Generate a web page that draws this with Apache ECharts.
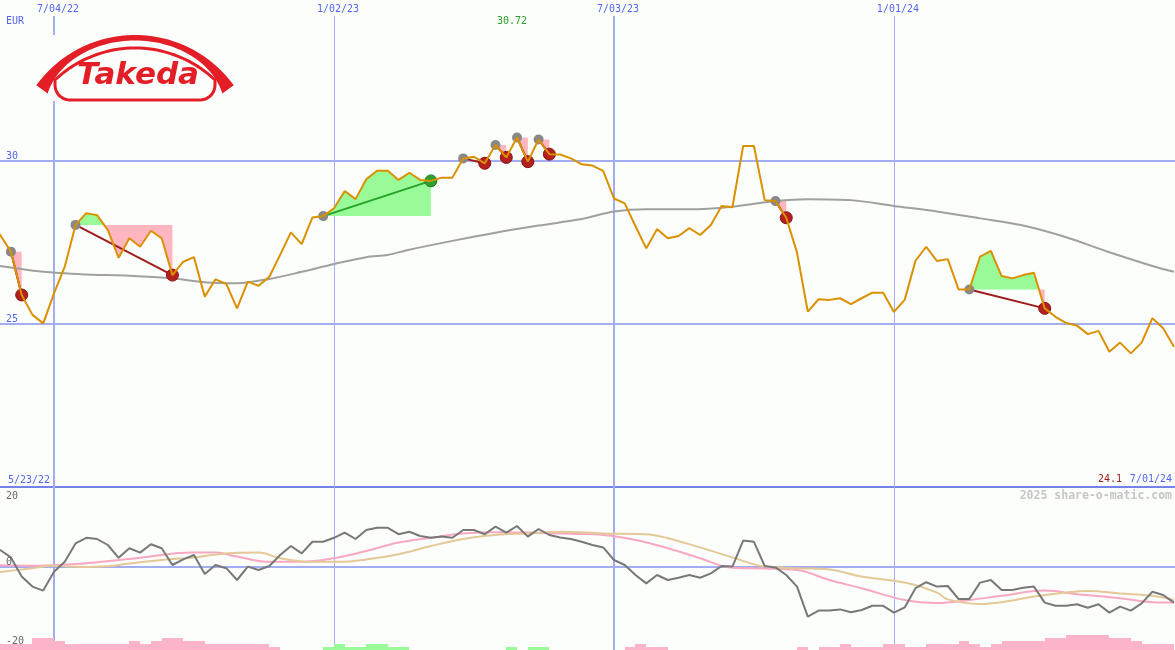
<!DOCTYPE html>
<html><head><meta charset="utf-8">
<script src="https://cdn.jsdelivr.net/npm/echarts@6/dist/echarts.min.js"></script>
<style>html,body{margin:0;padding:0;background:#fcfefc}#c{width:1175px;height:650px}</style>
</head><body><div id="c"></div>
<script>
// ---- data (week index 0 = 5/23/22) ----
const price = [28.10,27.73,27.22,25.89,25.28,25.02,25.94,26.76,28.04,28.40,
28.34,27.88,27.03,27.63,27.37,27.86,27.63,26.50,26.91,27.05,
25.84,26.37,26.23,25.48,26.30,26.17,26.45,27.12,27.81,27.45,
28.27,28.31,28.55,29.08,28.83,29.44,29.70,29.70,29.42,29.64,
29.42,29.39,29.49,29.49,30.08,30.13,29.93,30.49,30.11,30.72,
29.98,30.66,30.21,30.20,30.08,29.90,29.86,29.70,28.85,28.70,
28.00,27.32,27.91,27.63,27.70,27.94,27.73,28.04,28.62,28.58,
30.46,30.46,28.80,28.77,28.26,27.19,25.38,25.76,25.74,25.79,
25.61,25.79,25.96,25.96,25.37,25.74,26.94,27.37,26.93,26.99,
26.06,26.06,27.07,27.24,26.47,26.40,26.50,26.57,25.48,25.22,
25.03,24.95,24.69,24.79,24.15,24.43,24.10,24.43,25.18,24.87,24.30];
const movingAvg = [[0,26.80],[1,26.78],[5,26.60],[9,26.52],[13,26.48],[17,26.40],[20,26.28],[23,26.25],[26,26.38],[29,26.60],[32,26.84],[35,27.05],[37,27.12],[39,27.28],[43,27.55],[47,27.80],[51,28.02],[55,28.22],[58,28.45],[61,28.52],[65,28.52],[69,28.60],[73,28.77],[76,28.83],[80,28.80],[84,28.62],[88,28.45],[92,28.24],[96,28.02],[100,27.66],[104,27.20],[108,26.78],[110,26.60]];
const oscLine = [5.0,4.25,2.4,-2.4,-4.9,-5.9,-1.2,1.3,5.9,7.3,
7.0,5.5,2.3,4.7,3.6,5.7,4.7,0.5,1.9,3.0,
-1.75,0.5,-0.3,-3.25,0.1,-0.75,0.25,3.0,5.25,3.4,
6.3,6.3,7.3,8.6,7.0,9.25,9.8,9.8,8.2,8.8,
7.75,7.3,7.6,7.3,9.25,9.25,8.2,10.1,8.6,10.25,
7.6,9.5,8.0,7.4,7.0,6.3,5.5,4.9,1.75,0.5,
-2.0,-4.1,-2.0,-3.25,-2.7,-2.0,-2.7,-1.6,0.25,0.1,
6.6,6.3,0.25,-0.1,-2.0,-4.9,-12.4,-10.9,-10.9,-10.6,
-11.3,-10.75,-9.7,-9.7,-11.4,-10.1,-5.3,-3.8,-4.9,-4.75,
-8.0,-8.0,-3.9,-3.25,-5.75,-5.75,-5.2,-4.9,-8.9,-9.7,
-9.7,-9.3,-10.2,-9.3,-11.4,-9.9,-10.9,-9.1,-6.2,-7.0,-8.9];
const oscPink = [[0,0.5],[4,0.3],[8,0.75],[13,2.0],[19,3.6],[21,3.6],[23,2.6],[26,1.3],[29,1.3],[32,2.2],[35,4.0],[38,6.1],[41,7.3],[44,8.4],[47,8.7],[50,8.6],[54,8.3],[57,8.0],[60,6.75],[63,4.7],[66,2.2],[69,-0.2],[72,-0.4],[75,-0.75],[78,-3.25],[81,-5.3],[85,-8.25],[88,-9.0],[91,-8.25],[94,-7.2],[98,-5.9],[101,-6.8],[105,-7.8],[108,-8.8],[110,-8.9]];
const oscTan = [[0,-1.6],[4,-0.3],[6,0.3],[9,0.0],[11,0.2],[13,0.9],[16,1.75],[19,2.4],[22,3.4],[25,3.6],[27,2.2],[30,1.3],[33,1.3],[35,1.9],[38,3.2],[41,5.25],[44,7.0],[47,8.0],[50,8.4],[53,8.8],[57,8.4],[61,8.2],[63,7.2],[66,4.9],[69,2.4],[72,0.1],[75,-0.3],[78,-0.6],[81,-2.4],[85,-3.9],[88,-6.4],[89,-8.1],[92,-9.25],[94,-8.8],[97,-7.4],[100,-6.4],[102,-6.0],[105,-6.6],[108,-7.2],[110,-8.25]];
const barPink = [[0,2],[1,2],[2,2],[3,2],[4,4],[5,4],[6,3],[7,2],[8,2],[9,2],[10,2],[11,2],[12,2],[13,3],[14,2],[15,3],[16,4],[17,4],[18,3],[19,3],[20,2],[21,2],[22,2],[23,2],[24,2],[25,2],[26,1],
[59,1],[60,2],[61,1],[62,1],
[75,1],[77,1],[78,1],[79,2],[80,1],[81,1],[82,1],[83,2],[84,2],[85,1],[86,1],[87,2],[88,2],[89,2],[90,3],[91,2],[92,1],[93,2],[94,3],[95,3],[96,3],[97,3],[98,4],[99,4],[100,5],[101,5],[102,5],[103,5],[104,4],[105,4],[106,3],[107,2],[108,2],[109,2]];
const barGreen = [[31,1],[32,2],[33,1],[34,1],[35,2],[36,2],[37,1],[38,1],[48,1],[50,1],[51,1]];
// signals: [start week, end week, kind]
const signals = [[2,3,'sell'],[8,17,'sell'],[31,41,'buy'],[44,46,'sell'],[47,48,'sell'],[49,50,'sell'],[51,52,'sell'],[73,74,'sell'],[91,98,'sell']];
const dateTicks = [[6,'7/04/22'],[32,'1/02/23'],[58,'7/03/23'],[84,'1/01/24']];
const priceTicks = [25,30];
const oscTicks = [20,0,-20];
const firstDate = '5/23/22', lastDate = '7/01/24', currency = 'EUR';
const watermark = '2025 share-o-matic.com';
const logoText = 'Takeda';

// ---- styles ----
const BG = '#fcfefc';
const BLUE_TXT = '#5566ee';
const GRID_C = '#a3adf2';
const SEP_C = '#7482ea';
const ORANGE = '#db9000';
const FONT = '10px "DejaVu Sans Mono", monospace';
const XMIN = 0.986, XMAX = 110.1;

const chart = echarts.init(document.getElementById('c'), null, {renderer:'canvas', width:1175, height:650});

function crisp(v, w){ return Math.round(v) + (w % 2 ? 0.5 : 0); }

function vGrid(params, api){
  const cs = params.coordSys;
  const t = dateTicks[params.dataIndex];
  const w = t[1].startsWith('7/') ? 2 : 1;
  const x = crisp(api.coord([api.value(0), api.value(1)])[0], w);
  return {type:'line', shape:{x1:x, y1:cs.y, x2:x, y2:cs.y+cs.height}, style:{stroke:GRID_C, lineWidth:w}};
}
function hGrid(params, api){
  const cs = params.coordSys;
  const y = crisp(api.coord([api.value(0), api.value(1)])[1], 2);
  return {type:'line', shape:{x1:cs.x, y1:y, x2:cs.x+cs.width, y2:y}, style:{stroke:GRID_C, lineWidth:2}};
}
function fillItem(params, api){
  const sg = signals[params.dataIndex];
  const s = sg[0], e = sg[1];
  const L = price[s];
  const pts = [[s, price[s]]];
  for (let k = s; k < e; k++){
    const a = price[k], b = price[k+1];
    if ((a - L) * (b - L) < 0){ pts.push([k + (L - a) / (b - a), L]); }
    pts.push([k+1, b]);
  }
  const up = pts.map(p => api.coord([p[0], Math.max(p[1], L)]));
  const dn = pts.map(p => api.coord([p[0], Math.min(p[1], L)]));
  const base = [api.coord([e, L]), api.coord([s, L])];
  const p1 = api.coord([s, price[s]]), p2 = api.coord([e, price[e]]);
  return {type:'group', children:[
    {type:'polygon', shape:{points: up.concat(base)}, style:{fill:'#98fb98'}},
    {type:'polygon', shape:{points: dn.concat(base)}, style:{fill:'#ffb6c1'}},
    {type:'line', shape:{x1:p1[0], y1:p1[1], x2:p2[0], y2:p2[1]}, style:{stroke: sg[2]==='buy' ? '#28a028' : '#a01c1c', lineWidth:2}}
  ]};
}
function barItem(color){
  return function(params, api){
    const i = api.value(0), h = api.value(1);
    const p0 = api.coord([i, 0]), p1 = api.coord([i+1, h]);
    return {type:'rect', shape:{x:Math.round(p0[0]), y:p1[1], width:Math.round(p1[0])-Math.round(p0[0]), height:p0[1]-p1[1]}, style:{fill:color}};
  };
}

const option = {
  animation:false,
  backgroundColor: BG,
  grid:[
    {left:0, right:0, top:16, height:471, outerBoundsMode:'none', containLabel:false},
    {left:0, right:0, top:487, height:163, outerBoundsMode:'none', containLabel:false}
  ],
  xAxis:[
    {gridIndex:0, type:'value', min:XMIN, max:XMAX, position:'bottom',
     axisLine:{show:true, onZero:false, lineStyle:{color:SEP_C, width:2}}, axisTick:{show:false}, axisLabel:{show:false}, splitLine:{show:false}},
    {gridIndex:1, type:'value', min:XMIN, max:XMAX, show:false}
  ],
  yAxis:[
    {gridIndex:0, type:'value', min:20, max:34.448, show:false},
    {gridIndex:1, type:'value', min:-20.75, max:20, show:false},
    {gridIndex:1, type:'value', min:0, max:54.33, show:false}
  ],
  series:[
    {type:'custom', xAxisIndex:0, yAxisIndex:0, z:1, silent:true, renderItem:vGrid, data:dateTicks.map(d=>[d[0],25])},
    {type:'custom', xAxisIndex:0, yAxisIndex:0, z:1, silent:true, renderItem:hGrid, data:priceTicks.map(v=>[50,v])},
    {type:'custom', xAxisIndex:1, yAxisIndex:1, z:1, silent:true, renderItem:vGrid, data:dateTicks.map(d=>[d[0],0])},
    {type:'custom', xAxisIndex:1, yAxisIndex:1, z:1, silent:true, renderItem:hGrid, data:[[50,0]]},
    {type:'custom', xAxisIndex:0, yAxisIndex:0, z:2, silent:true, renderItem:fillItem, data:signals.map(s=>[s[0], price[s[0]]])},
    {type:'line', xAxisIndex:0, yAxisIndex:0, z:3, silent:true, data:movingAvg, smooth:0.3, symbol:'none', lineStyle:{color:'#a0a0a0', width:2}},
    {type:'scatter', xAxisIndex:0, yAxisIndex:0, z:4, silent:true, symbolSize:10,
     data:signals.map(s=>[s[0], price[s[0]]]), itemStyle:{color:'#888888', opacity:1}},
    {type:'scatter', xAxisIndex:0, yAxisIndex:0, z:4, silent:true, symbolSize:12,
     data:signals.map(s=>({value:[s[1], price[s[1]]], itemStyle:{color: s[2]==='buy' ? '#2e9e2e' : '#b3201f', borderColor: s[2]==='buy' ? '#1e7e1e' : '#8a1010', borderWidth:1, opacity:1}}))},
    {type:'line', xAxisIndex:0, yAxisIndex:0, z:6, silent:true, data:price.map((v,i)=>[i,v]), symbol:'none', lineStyle:{color:ORANGE, width:2}},
    {type:'custom', xAxisIndex:1, yAxisIndex:2, z:2, silent:true, renderItem:barItem('#fbb4c8'), data:barPink},
    {type:'custom', xAxisIndex:1, yAxisIndex:2, z:2, silent:true, renderItem:barItem('#98fb98'), data:barGreen},
    {type:'line', xAxisIndex:1, yAxisIndex:1, z:3, silent:true, data:oscPink, smooth:0.4, symbol:'none', lineStyle:{color:'#f8a8c0', width:2}},
    {type:'line', xAxisIndex:1, yAxisIndex:1, z:4, silent:true, data:oscTan, smooth:0.4, symbol:'none', lineStyle:{color:'#e4c896', width:2}},
    {type:'line', xAxisIndex:1, yAxisIndex:1, z:5, silent:true, data:oscLine.map((v,i)=>[i,v]), symbol:'none', lineStyle:{color:'#787878', width:2}}
  ]
};
chart.setOption(option);

// ---- texts & logo ----
function txt(text, x, y, color, align, font){
  return {type:'text', z:100, silent:true, style:{text:text, x:x, y:y, fill:color, font:font||FONT, align:align||'left', verticalAlign:'middle', textAlign:align||'left', textVerticalAlign:'middle'}};
}
const g = [];
dateTicks.forEach(d=>{ const x = chart.convertToPixel({xAxisIndex:0}, d[0]); g.push(txt(d[1], x+4, 9, BLUE_TXT, 'center')); });
g.push(txt(currency, 6, 21, BLUE_TXT, 'left'));
priceTicks.forEach(v=>{ const y = chart.convertToPixel({yAxisIndex:0}, v); g.push(txt(String(v), 6, y-5, BLUE_TXT, 'left')); });
oscTicks.forEach(v=>{ const y = chart.convertToPixel({yAxisIndex:1}, v); const dy = v>0 ? 9 : (v<0 ? -6 : -5); g.push(txt(String(v), 6, y+dy, '#666666', 'left')); });
let maxI = 1, minI = 1;
for (let i=1;i<price.length;i++){ if (price[i]>price[maxI]) maxI=i; if (price[i]<price[minI]) minI=i; }
g.push(txt(price[maxI].toFixed(2), chart.convertToPixel({xAxisIndex:0}, maxI)-5, 21, '#28a028', 'center'));
g.push(txt(firstDate, 8, 480, BLUE_TXT, 'left'));
g.push(txt(lastDate, 1172, 479, BLUE_TXT, 'right'));
g.push(txt(String(+price[minI].toFixed(2)), 1122, 479, '#a01c1c', 'right'));
g.push(txt(watermark, 1172, 496, '#c6c6c6', 'right', 'bold 11.5px "DejaVu Sans Mono", monospace'));

// logo
const RED = '#e41e26';
(function(){
  const cx=135, cy=157, R=122, maxA=54*Math.PI/180, n=60;
  const outer=[], inner=[];
  for (let k=0;k<=n;k++){
    const a=-maxA + 2*maxA*k/n;
    const t=5.5+8.5*Math.pow(Math.abs(a)/maxA,4);
    outer.push([cx+R*Math.sin(a), cy-R*Math.cos(a)]);
    inner.push([cx+(R-t)*Math.sin(a), cy-(R-t)*Math.cos(a)]);
  }
  g.push({type:'rect', z:90, silent:true, shape:{x:36, y:35, width:200, height:66}, style:{fill:BG}});
  g.push({type:'polygon', z:91, silent:true, shape:{points: outer.concat(inner.reverse())}, style:{fill:RED}});
  // pill outline
  const pts=[];
  const pcx=135, pcy=164, pr=116;
  const a0 = Math.asin(80/pr);
  for (let k=0;k<=40;k++){ const a=-a0+2*a0*k/40; pts.push([pcx+pr*Math.sin(a), pcy-pr*Math.cos(a)]); }
  const rc=15;
  for (let k=0;k<=10;k++){ const a=k/10*Math.PI/2; pts.push([200+rc*Math.cos(a), 85+rc*Math.sin(a)]); }
  for (let k=0;k<=10;k++){ const a=Math.PI/2 + k/10*Math.PI/2; pts.push([70+rc*Math.cos(a), 85+rc*Math.sin(a)]); }
  g.push({type:'polygon', z:92, silent:true, shape:{points:pts}, style:{fill:null, stroke:RED, lineWidth:3}});
  g.push({type:'text', z:93, silent:true, style:{text:logoText, x:138, y:76, fill:RED, font:'italic bold 31px "DejaVu Sans", sans-serif', align:'center', verticalAlign:'middle', textAlign:'center', textVerticalAlign:'middle'}});
})();
chart.setOption({graphic:{elements:g}});
</script>
</body></html>
